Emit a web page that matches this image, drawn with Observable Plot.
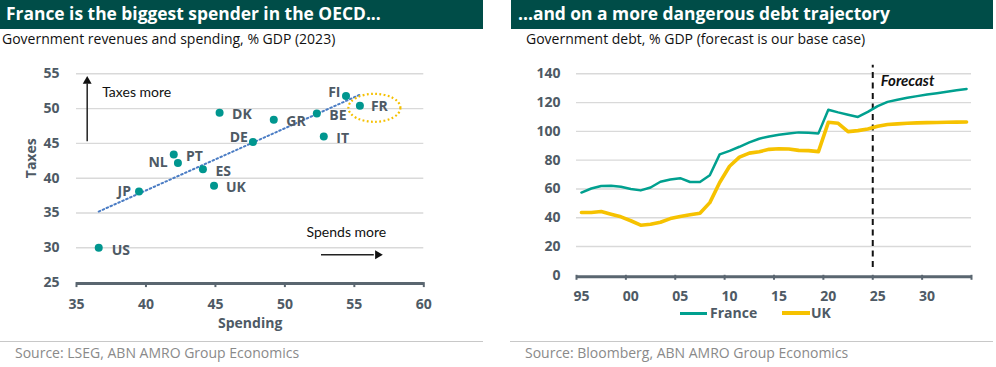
<!DOCTYPE html>
<html><head><meta charset="utf-8">
<script src="https://cdn.jsdelivr.net/npm/d3@7"></script>
<script src="https://cdn.jsdelivr.net/npm/@observablehq/plot@0.6"></script>
<style>
body{margin:0;background:#fff;font-family:"Open Sans",Lato,sans-serif;}
#page{position:relative;width:996px;height:367px;overflow:hidden;background:#fff;}
.band{position:absolute;top:0;height:29px;background:#004d48;color:#fff;font-weight:700;font-size:17.4px;line-height:27px;white-space:nowrap;box-sizing:border-box;}
.sub{position:absolute;top:31px;font-size:14px;line-height:16px;color:#111;white-space:nowrap;}
.src{position:absolute;top:345px;font-size:14px;line-height:16px;color:#8a8a8a;white-space:nowrap;}
.sep{position:absolute;top:341px;height:1px;background:#c8c8c8;}
.chart{position:absolute;top:55px;}
.lg{position:absolute;top:304px;font-size:14px;line-height:17px;font-weight:700;color:#4e5a65;white-space:nowrap;}
.sw{position:absolute;}
</style></head>
<body><div id="page">
<div class="band" style="left:0;width:483px;padding-left:6px">France is the biggest spender in the OECD...</div>
<div class="band" style="left:511px;width:482px;padding-left:7px">...and on a more dangerous debt trajectory</div>
<div class="sub" style="left:2px">Government revenues and spending, % GDP (2023)</div>
<div class="sub" style="left:526px">Government debt, % GDP (forecast is our base case)</div>
<div id="left" class="chart" style="left:0"></div>
<div id="right" class="chart" style="left:510px"></div>
<div class="sw" style="left:680px;top:312px;width:27px;height:3px;background:#00a08f"></div>
<div class="lg" style="left:710px">France</div>
<div class="sw" style="left:782px;top:311px;width:28px;height:4px;background:#f6c200"></div>
<div class="lg" style="left:811px">UK</div>
<div class="sep" style="left:0;width:483px"></div>
<div class="sep" style="left:510px;width:483px"></div>
<div class="src" style="left:15px">Source: LSEG, ABN AMRO Group Economics</div>
<div class="src" style="left:525px">Source: Bloomberg, ABN AMRO Group Economics</div>
</div>
<script>
// ---- Left chart data ----
const countries = ["US","JP","NL","PT","ES","UK","DK","DE","GR","BE","IT","FI","FR"];
const spending  = [36.6, 39.5, 42.0, 42.3, 44.1, 44.9, 45.3, 47.7, 49.2, 52.3, 52.8, 54.4, 55.4];
const taxes     = [30.0, 38.1, 43.4, 42.2, 41.3, 38.9, 49.4, 45.2, 48.4, 49.3, 46.0, 51.8, 50.4];
const spendTicks = [35, 40, 45, 50, 55, 60];
const taxTicks = [25, 30, 35, 40, 45, 50, 55];

// ---- Right chart data ----
const years = [1995,1996,1997,1998,1999,2000,2001,2002,2003,2004,2005,2006,2007,2008,2009,2010,2011,2012,2013,2014,
               2015,2016,2017,2018,2019,2020,2021,2022,2023,2024,2025,2026,2027,2028,2029,2030,2031,2032,2033,2034];
const france = [57.5,60.3,62.0,62.2,61.5,60.0,59.0,61.0,65.0,66.5,67.5,64.8,64.8,69.5,84.0,86.5,89.3,92.3,94.9,96.5,
                97.7,98.6,99.3,99.1,98.6,115.0,113.2,111.6,110.0,113.5,117.5,120.5,122.0,123.3,124.5,125.6,126.5,127.5,128.5,129.5];
const uk     = [43.6,43.6,44.3,42.4,40.6,37.9,34.8,35.5,36.9,39.4,40.8,42.0,43.1,50.5,64.5,75.8,82.1,84.9,85.9,87.5,
                87.9,87.7,86.8,86.6,85.9,106.3,105.6,99.8,100.5,101.6,103.5,104.8,105.2,105.6,105.9,106.1,106.2,106.3,106.4,106.5];
const debtTicks = [0, 20, 40, 60, 80, 100, 120, 140];
const yearLabels = [1995, 2000, 2005, 2010, 2015, 2020, 2025, 2030];
const forecastStart = 2024.5;

const axisColor = "#4e5a65";
const teal = "#00968f";
const font = "'Open Sans', Lato, sans-serif";
const noteFont = "Lato, 'Open Sans', sans-serif";

// label placement (anchor, dx, dy) – styling only
const place = {
  US:["start",13,2.5], JP:["end",-8,0], NL:["end",-6,8], PT:["start",8,-6.5], ES:["start",12.5,2],
  UK:["start",12,2], DK:["start",12.5,1.5], DE:["end",-5,-4], GR:["start",12.5,2], BE:["start",12.5,2.5],
  IT:["start",12.5,2], FI:["end",-5.5,-3.5], FR:["start",11,1]
};

const pts = countries.map((c, i) => ({c, s: spending[i], t: taxes[i]}));

const left = Plot.plot({
  width: 483, height: 283,
  marginLeft: 76, marginRight: 59.7, marginTop: 18.3, marginBottom: 55.9,
  style: {fontFamily: font, fontSize: "14px", color: axisColor, background: "transparent", overflow: "visible"},
  x: {domain: [35, 60]},
  y: {domain: [25, 55]},
  marks: [
    Plot.ruleY(taxTicks.slice(1), {stroke: "#d9d9d9", strokeWidth: 1.4}),
    Plot.axisY(taxTicks, {tickSize: 0, tickPadding: 17, fontWeight: "bold", label: null}),
    Plot.axisX(spendTicks, {tickSize: 5, tickFormat: () => "", stroke: "#5a6670", strokeWidth: 2, label: null}),
    Plot.axisX(spendTicks, {tickSize: 0, tickPadding: 16, fontWeight: "bold", label: null}),
    Plot.ruleY([25], {stroke: "#5a6670", strokeWidth: 3, dy: 1}),
    Plot.text(["Spending"], {frameAnchor: "bottom", dy: 45, fontSize: 14, fontWeight: "bold", fill: axisColor}),
    Plot.text(["Taxes"], {frameAnchor: "left", dx: -45, rotate: -90, fontSize: 14, fontWeight: "bold", fill: axisColor}),
    Plot.linearRegressionY(pts, {x: "s", y: "t", ci: 0, stroke: "#4a7cc4", strokeWidth: 2, strokeDasharray: "1.6,2.7"}),
    Plot.dot(pts, {x: "s", y: "t", r: 4, fill: teal}),
    ...countries.map((c, i) => Plot.text([pts[i]], {
      x: "s", y: "t", text: "c", textAnchor: place[c][0], dx: place[c][1], dy: place[c][2],
      fontWeight: "bold", fontSize: 14, fill: axisColor
    })),
    // annotation arrows
    Plot.link([{x: 35.77, y1: 45.3, y2: 53.6}], {x: "x", y1: "y1", y2: "y2", stroke: "#222", strokeWidth: 1.5}),
    Plot.dot([{x: 35.77, y: 53.95}], {x: "x", y: "y", symbol: "triangle", r: 3.3, fill: "#111", stroke: "none"}),
    Plot.text(["Taxes more"], {x: 36.85, y: 52.3, textAnchor: "start", fontSize: 14, fill: "#111", fontFamily: noteFont}),
    Plot.link([{x1: 52.6, x2: 56.4, y: 29.0}], {x1: "x1", x2: "x2", y: "y", stroke: "#222", strokeWidth: 1.5}),
    Plot.dot([{x: 56.68, y: 29.0}], {x: "x", y: "y", symbol: "triangle", rotate: 90, r: 3.3, fill: "#111", stroke: "none"}),
    Plot.text(["Spends more"], {x: 51.56, y: 32.2, textAnchor: "start", fontSize: 14, fill: "#111", fontFamily: noteFont})
  ]
});
document.getElementById("left").appendChild(left);

// ellipse around France
{
  const sx = left.scale("x"), sy = left.scale("y");
  const fr = pts.find(d => d.c === "FR");
  const e = document.createElementNS("http://www.w3.org/2000/svg", "ellipse");
  e.setAttribute("cx", sx.apply(fr.s) + 15);
  e.setAttribute("cy", sy.apply(fr.t) + 2.5);
  e.setAttribute("rx", 26);
  e.setAttribute("ry", 14);
  e.setAttribute("fill", "none");
  e.setAttribute("stroke", "#f5c000");
  e.setAttribute("stroke-width", 2.2);
  e.setAttribute("stroke-dasharray", "1.8,2.4");
  left.appendChild(e);
}

const series = [];
years.forEach((y, i) => {
  series.push({year: y, value: france[i], name: "France"});
  series.push({year: y, value: uk[i], name: "UK"});
});
const boundaries = d3.range(1994.5, 2035, 5);

const right = Plot.plot({
  width: 483, height: 250,
  marginLeft: 66, marginRight: 22, marginTop: 18.3, marginBottom: 30.2,
  style: {fontFamily: font, fontSize: "14px", color: axisColor, background: "transparent", overflow: "visible"},
  x: {domain: [1994.5, 2034.5]},
  y: {domain: [0, 140]},
  marks: [
    Plot.ruleY(debtTicks.slice(1), {stroke: "#d9d9d9", strokeWidth: 1.4}),
    Plot.axisY(debtTicks, {tickSize: 0, tickPadding: 16, fontWeight: "bold", label: null}),
    Plot.axisX(boundaries, {tickSize: 5, tickFormat: () => "", stroke: "#5a6670", strokeWidth: 2, label: null}),
    Plot.axisX(yearLabels, {tickSize: 0, tickPadding: 15.5, fontWeight: "bold", label: null, tickFormat: d => String(d).slice(2)}),
    Plot.ruleY([0], {stroke: "#5a6670", strokeWidth: 3, dy: 1.5}),
    Plot.ruleX([forecastStart], {y1: 5.5, y2: 146, stroke: "#111", strokeWidth: 2, strokeDasharray: "6,4.5"}),
    Plot.text(["Forecast"], {x: forecastStart, y: 135, dx: 8, textAnchor: "start", fontSize: 15, fontWeight: "bold", fontStyle: "italic", fill: "#111", fontFamily: noteFont}),
    Plot.line(series.filter(d => d.name === "France"), {x: "year", y: "value", stroke: "#00a08f", strokeWidth: 2.5}),
    Plot.line(series.filter(d => d.name === "UK"), {x: "year", y: "value", stroke: "#f6c200", strokeWidth: 3.6})
  ]
});
document.getElementById("right").appendChild(right);
</script>
</body></html>
